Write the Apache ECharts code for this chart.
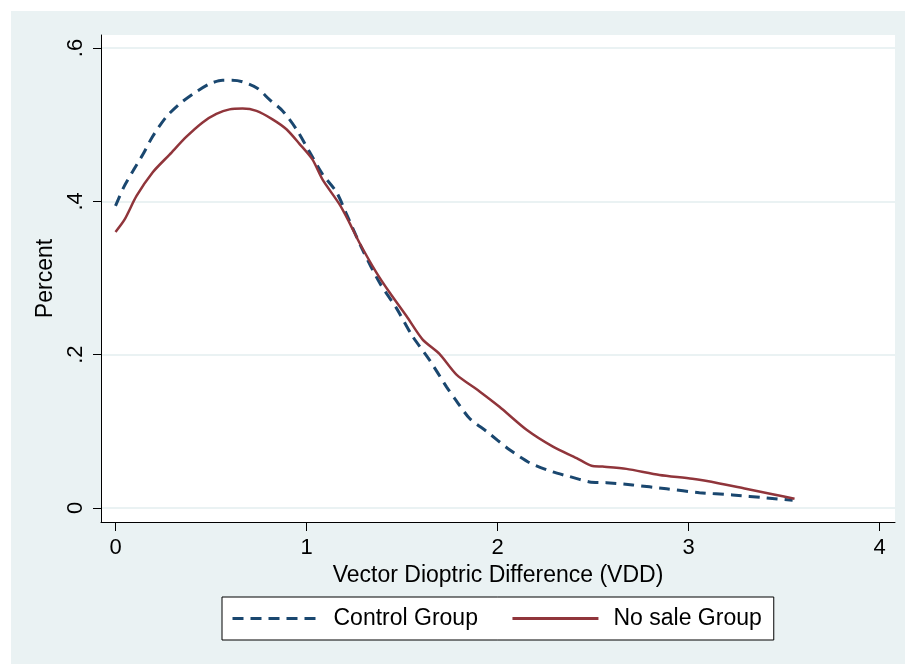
<!DOCTYPE html>
<html>
<head>
<meta charset="utf-8">
<script src="https://cdn.jsdelivr.net/npm/echarts@6/dist/echarts.min.js"></script>
<style>
  html, body { margin: 0; padding: 0; background: #ffffff; }
  #wrap { position: relative; width: 905px; height: 664px; background: #ffffff; }
  #bg { position: absolute; left: 11px; top: 11px; right: 0; bottom: 0; background: #EAF2F3; }
  #chart { position: absolute; left: 0; top: 0; width: 905px; height: 664px; }
</style>
</head>
<body>
<div id="wrap"><div id="bg"></div><div id="chart"></div></div>
<script>
// ---- data ----
const seriesNames = ['Control Group', 'No sale Group'];
const xTicks = [0, 1, 2, 3, 4];
const xTickLabels = ['0', '1', '2', '3', '4'];
const yTicks = [0, 0.2, 0.4, 0.6];
const yTickLabels = ['0', '.2', '.4', '.6'];

const controlX = [0, 0.042, 0.09, 0.143, 0.195, 0.265, 0.335, 0.405, 0.49, 0.56, 0.61, 0.665, 0.74, 0.805, 0.875, 0.947, 1.017, 1.085, 1.157, 1.21, 1.293, 1.382, 1.47, 1.555, 1.644, 1.733, 1.775, 1.853, 1.942, 2.063, 2.168, 2.29, 2.377, 2.482, 2.57, 2.707, 2.885, 3.057, 3.23, 3.41, 3.545];
const controlY = [0.394, 0.418, 0.439, 0.461, 0.485, 0.510, 0.527, 0.540, 0.553, 0.558, 0.558, 0.556, 0.548, 0.533, 0.518, 0.494, 0.464, 0.435, 0.412, 0.383, 0.337, 0.294, 0.261, 0.224, 0.193, 0.158, 0.143, 0.117, 0.100, 0.076, 0.059, 0.047, 0.041, 0.034, 0.033, 0.030, 0.025, 0.020, 0.017, 0.013, 0.010];

const noSaleX = [0, 0.047, 0.11, 0.195, 0.283, 0.37, 0.456, 0.528, 0.597, 0.665, 0.738, 0.822, 0.895, 0.963, 1.03, 1.085, 1.173, 1.225, 1.277, 1.366, 1.435, 1.524, 1.607, 1.696, 1.785, 1.906, 2.01, 2.152, 2.29, 2.414, 2.492, 2.55, 2.675, 2.848, 3.02, 3.162, 3.30, 3.44, 3.555];
const noSaleY = [0.360, 0.376, 0.407, 0.438, 0.461, 0.484, 0.503, 0.514, 0.520, 0.521, 0.518, 0.507, 0.494, 0.475, 0.455, 0.428, 0.396, 0.372, 0.346, 0.307, 0.281, 0.250, 0.220, 0.201, 0.174, 0.152, 0.132, 0.102, 0.080, 0.065, 0.055, 0.054, 0.051, 0.043, 0.038, 0.032, 0.025, 0.018, 0.012];

const pairs = (xs, ys) => xs.map((x, i) => [x, ys[i]]);

const FONT = 'Liberation Sans, Arial, sans-serif';
const chart = echarts.init(document.getElementById('chart'), null, { renderer: 'canvas' });

chart.setOption({
  backgroundColor: 'transparent',
  animation: false,
  grid: {
    left: 101, top: 35, width: 794, height: 487,
    show: true, backgroundColor: '#ffffff', borderWidth: 0,
    containLabel: false
  },
  xAxis: {
    type: 'value',
    min: -0.076, max: 4.081,
    name: 'Vector Dioptric Difference (VDD)',
    nameLocation: 'middle',
    nameGap: 36,
    nameTextStyle: { fontFamily: FONT, fontSize: 23, color: '#000' },
    axisLine: { show: true, onZero: false, lineStyle: { color: '#000', width: 1 } },
    axisTick: { show: true, length: 9, lineStyle: { color: '#000', width: 1 }, customValues: xTicks },
    axisLabel: {
      customValues: xTicks,
      margin: 15,
      fontFamily: FONT, fontSize: 22, color: '#000',
      formatter: v => xTickLabels[xTicks.indexOf(v)] ?? ''
    },
    splitLine: { show: false }
  },
  yAxis: {
    type: 'value',
    min: -0.0183, max: 0.617,
    name: 'Percent',
    nameLocation: 'middle',
    nameGap: 37,
    nameRotate: 90,
    nameTextStyle: { fontFamily: FONT, fontSize: 23, color: '#000' },
    axisLine: { show: true, onZero: false, lineStyle: { color: '#000', width: 1 } },
    axisTick: { show: true, length: 8, lineStyle: { color: '#000', width: 1 }, customValues: yTicks },
    axisLabel: {
      customValues: yTicks,
      rotate: 90,
      margin: 14,
      fontFamily: FONT, fontSize: 22, color: '#000',
      formatter: v => yTickLabels[yTicks.findIndex(t => Math.abs(t - v) < 1e-9)] ?? ''
    },
    splitLine: { show: true, lineStyle: { color: '#EAF2F3', width: 2 } }
  },
  legend: {
    show: true,
    left: 222, top: 597,
    orient: 'horizontal',
    backgroundColor: '#ffffff',
    borderColor: '#000',
    borderWidth: 1,
    borderRadius: 0,
    padding: [10, 12, 10, 9],
    itemWidth: 86,
    itemHeight: 14,
    itemGap: 33,
    itemStyle: { color: 'transparent', borderWidth: 0, opacity: 0 },
    lineStyle: { width: 3 },
    textStyle: { fontFamily: FONT, fontSize: 23, color: '#000', padding: [0, 0, 0, 10] },
    data: seriesNames
  },
  series: [
    {
      name: seriesNames[0],
      type: 'line',
      data: pairs(controlX, controlY),
      symbol: 'none',
      smooth: 0.25,
      lineStyle: { color: '#1a476f', width: 3, type: [11, 7] },
      itemStyle: { color: '#1a476f' }
    },
    {
      name: seriesNames[1],
      type: 'line',
      data: pairs(noSaleX, noSaleY),
      symbol: 'none',
      smooth: 0.25,
      lineStyle: { color: '#90353b', width: 2.5 },
      itemStyle: { color: '#90353b' }
    }
  ]
});
</script>
</body>
</html>
